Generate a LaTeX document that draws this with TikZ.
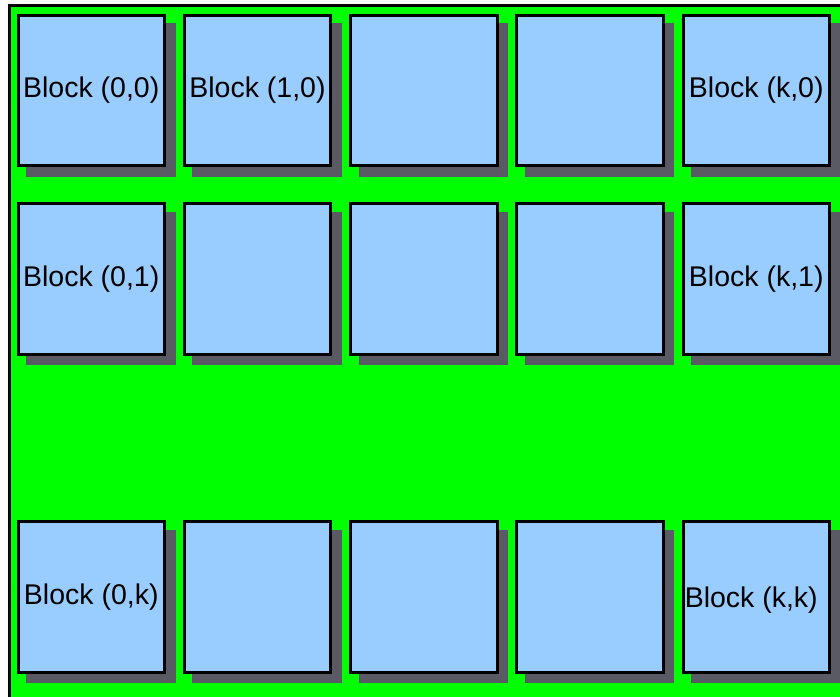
\documentclass[tikz,border=0pt]{standalone}
\usepackage{fontspec}
\setmainfont{Liberation Sans}
\definecolor{bg}{RGB}{0,255,0}
\definecolor{blockblue}{RGB}{153,204,255}
\definecolor{shadowgray}{RGB}{90,90,100}
\tikzset{
  blockbox/.style={draw=black, line width=3pt, fill=blockblue, minimum width=146.5pt, minimum height=150.5pt, inner sep=0pt, anchor=north west},
  blocklabel/.style={font=\fontsize{28.5}{30}\selectfont, text=black, inner sep=0pt},
  blockshadow/.style={fill=shadowgray, draw=none}
}
\begin{document}
\begin{tikzpicture}[x=1pt,y=-1pt]
\useasboundingbox (0,0) rectangle (840,696);
\begin{scope}
\clip (0,0) rectangle (840,696);
\draw[line width=3pt, fill=bg] (9.3,5.5) rectangle (860,720);
% shadows
\foreach \r/\ry in {0/13.5, 1/202, 2/520} {
  \foreach \c in {0,...,4} {
    \fill[blockshadow] ({15+166.25*\c+11},{\ry-1.5+11}) rectangle ++(149.5,153.5);
  }
}
% blocks
\foreach \r/\ry in {0/13.5, 1/202, 2/520} {
  \foreach \c in {0,...,4} {
    \node[blockbox] (b\c\r) at ({16.5+166.25*\c},\ry) {};
  }
}
\end{scope}
\node[blocklabel] (t00) at (b00) {Block (0,0)};
\node[blocklabel] (t10) at (b10) {Block (1,0)};
\node[blocklabel] (t40) at (b40) {Block (k,0)};
\node[blocklabel] (t01) at (b01) {Block (0,1)};
\node[blocklabel] (t41) at (b41) {Block (k,1)};
\node[blocklabel] (t02) at (b02) {Block (0,k)};
\node[blocklabel, xshift=-5pt, yshift=-3pt] (t42) at (b42) {Block (k,k)};
\end{tikzpicture}
\end{document}
